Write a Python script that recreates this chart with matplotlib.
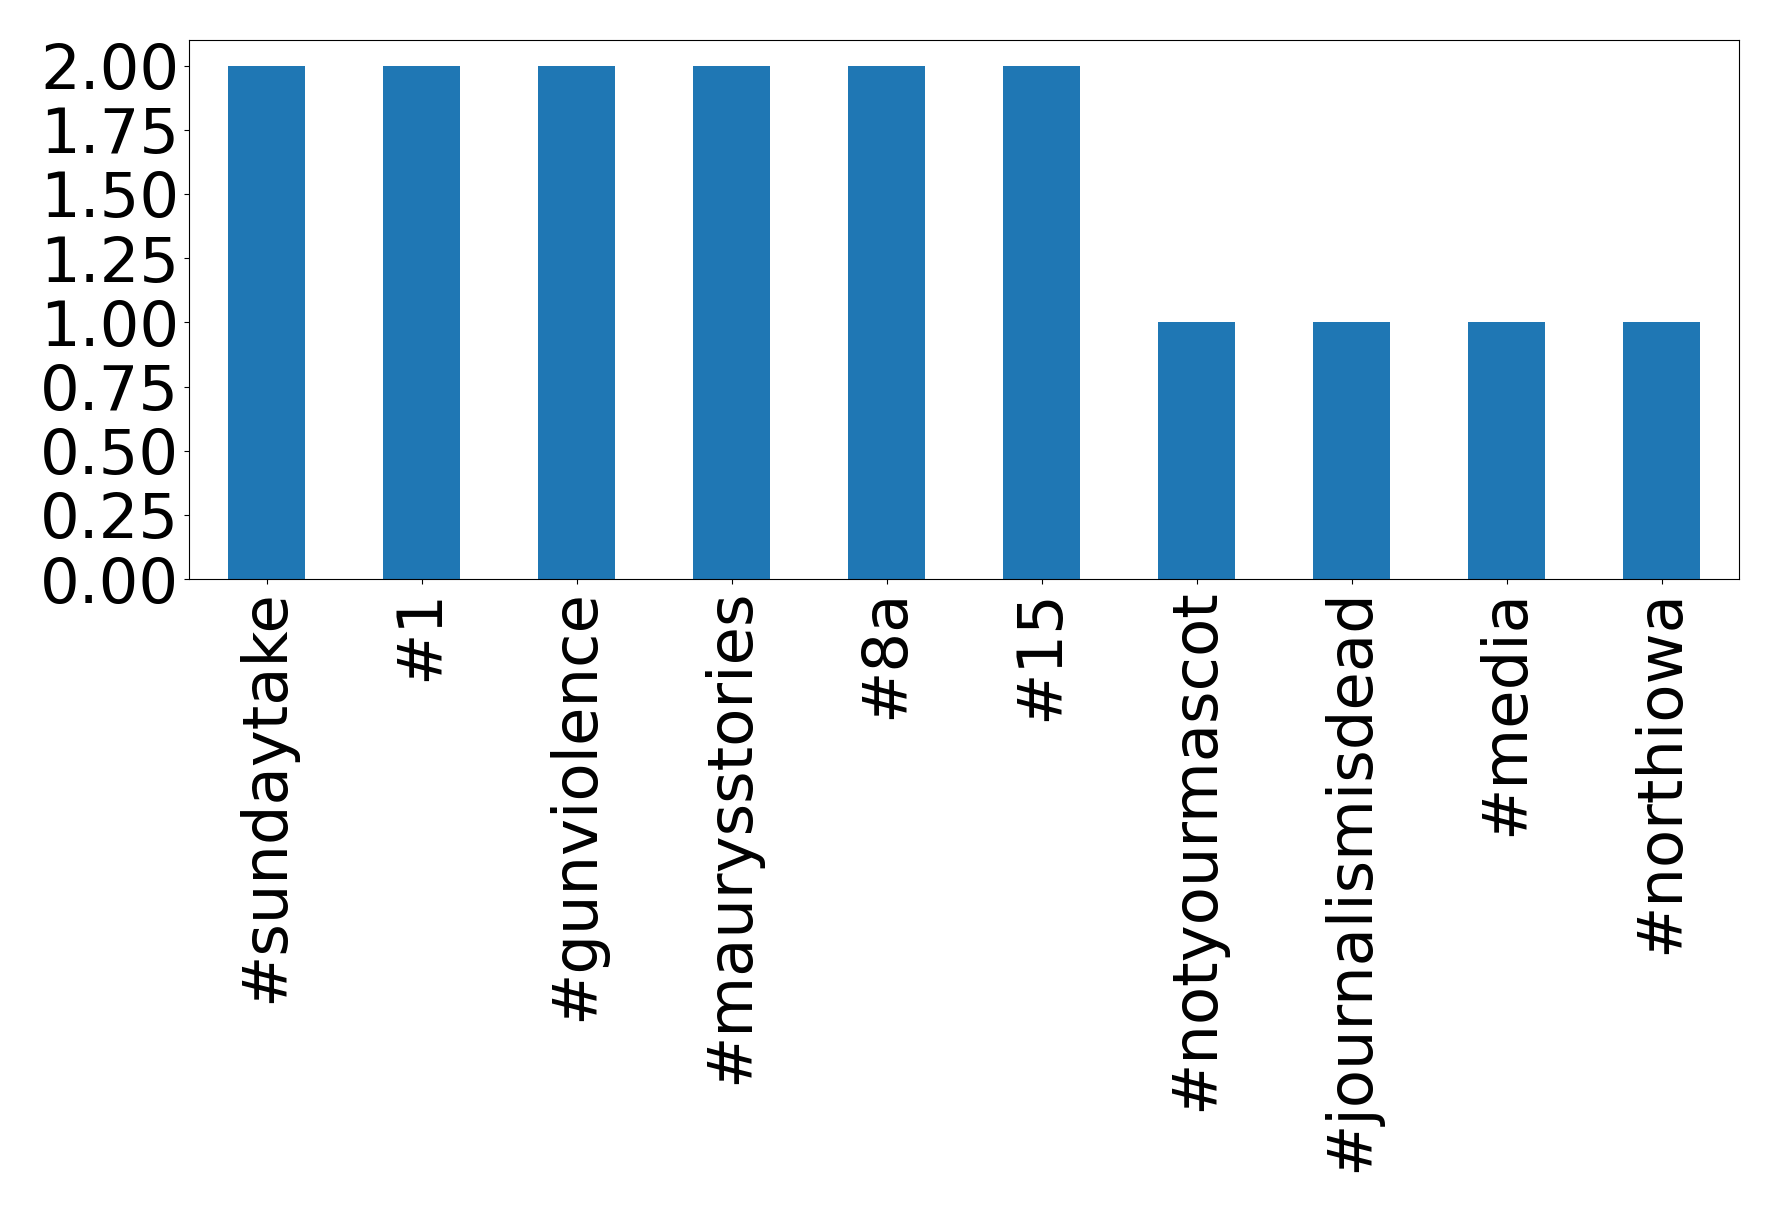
import matplotlib
matplotlib.use("Agg")
import matplotlib.pyplot as plt
import numpy as np

# hashtag counts
hashtags = ["#sundaytake", "#1", "#gunviolence", "#maurysstories", "#8a", "#15",
            "#notyourmascot", "#journalismisdead", "#media", "#northiowa"]
counts = [2, 2, 2, 2, 2, 2, 1, 1, 1, 1]

fig = plt.figure(figsize=(17.78, 12.12), dpi=100)
ax = fig.add_axes([189 / 1778, 1 - 579 / 1212, (1739 - 189) / 1778, (579 - 40) / 1212])

x = np.arange(len(hashtags))
ax.bar(x, counts, width=0.5, color="#1f77b4")
ax.set_xlim(-0.5, len(hashtags) - 0.5)
ax.set_ylim(0, 2.1)
ax.set_yticks(np.arange(0, 2.01, 0.25))
ax.set_yticklabels([f"{v:.2f}" for v in np.arange(0, 2.01, 0.25)])
ax.set_xticks(x)
ax.set_xticklabels(hashtags, rotation=90)
ax.tick_params(labelsize=45)

fig.savefig("out.png", dpi=100)
